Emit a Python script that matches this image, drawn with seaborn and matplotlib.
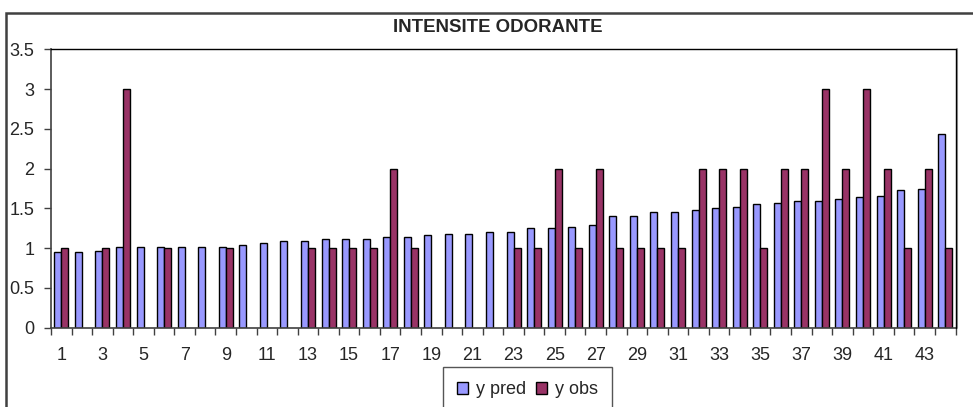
import numpy as np
import pandas as pd
import matplotlib
matplotlib.use("Agg")
import matplotlib.pyplot as plt
from matplotlib.patches import Patch, Rectangle
import seaborn as sns

nan = np.nan

categories = [str(i) for i in range(1, 45)]
y_pred = [0.95, 0.95, 0.97, 1.02, 1.02, 1.02, 1.02, 1.02, 1.02, 1.04,
          1.06, 1.09, 1.09, 1.11, 1.11, 1.11, 1.14, 1.14, 1.16, 1.18,
          1.18, 1.20, 1.20, 1.25, 1.25, 1.27, 1.29, 1.40, 1.40, 1.45,
          1.45, 1.48, 1.50, 1.52, 1.55, 1.57, 1.59, 1.59, 1.62, 1.64,
          1.66, 1.73, 1.75, 2.44]
y_obs = [1, nan, 1, 3, nan, 1, nan, nan, 1, nan,
         nan, nan, 1, 1, 1, 1, 2, 1, nan, nan,
         nan, nan, 1, 1, 2, 1, 2, 1, 1, 1,
         1, 2, 2, 2, 1, 2, 2, 3, 2, 3,
         2, 1, 2, 1]
series = ["y pred", "y obs"]
colors = ["#9999FF", "#993366"]
y_ticks = [0, 0.5, 1, 1.5, 2, 2.5, 3, 3.5]
y_tick_labels = ["0", "0.5", "1", "1.5", "2", "2.5", "3", "3.5"]
title = "INTENSITE ODORANTE"

df = pd.DataFrame({
    "cat": categories * 2,
    "serie": [series[0]] * len(categories) + [series[1]] * len(categories),
    "val": list(y_pred) + list(y_obs),
})

sns.set_style("white")
plt.rcParams["font.family"] = ["Liberation Sans", "DejaVu Sans"]

fig = plt.figure(figsize=(9.73, 4.07), dpi=100)
ax = fig.add_axes([51 / 973, 1 - 327.7 / 407, (955.5 - 51) / 973, (327.7 - 49.3) / 407])

sns.barplot(data=df, x="cat", y="val", hue="serie", order=categories,
            hue_order=series, palette=colors, errorbar=None, width=0.68,
            edgecolor="black", linewidth=1.0, saturation=1, ax=ax, legend=False)

ax.set_xlim(-0.5, len(categories) - 0.5)
ax.set_ylim(0, 3.5)
ax.set_xlabel("")
ax.set_ylabel("")

ax.set_yticks(y_ticks)
ax.set_yticklabels(y_tick_labels)
ax.tick_params(axis="y", which="major", direction="out", length=5, width=1,
               color="#404040", labelsize=13, pad=7, left=True)

ax.set_xticks(range(len(categories)))
ax.set_xticklabels([c if i % 2 == 0 else "" for i, c in enumerate(categories)])
ax.tick_params(axis="x", which="major", length=0, labelsize=13, pad=14)
ax.set_xticks(np.arange(-0.5, len(categories) + 0.5, 1.0), minor=True)
ax.tick_params(axis="x", which="minor", direction="out", length=5, width=1,
               color="#404040", bottom=True)

for side in ["left", "bottom"]:
    ax.spines[side].set_color("#404040")
    ax.spines[side].set_linewidth(1.2)
ax.spines["top"].set_color("black")
ax.spines["top"].set_linewidth(1.0)
ax.spines["right"].set_visible(False)
ax.grid(False)

# right edge of the plot area, black line with a grey shade beside it
ax.plot([1.0, 1.0], [0, 1], transform=ax.transAxes, color="black",
        linewidth=1.0, clip_on=False, zorder=6)
ax.plot([1.0, 1.0], [0, 1], transform=ax.transAxes, color="#a0a0a0",
        linewidth=1.5, clip_on=False, zorder=5,
        dashes=(None, None))
ax.lines[-1].set_transform(ax.transAxes + matplotlib.transforms.ScaledTranslation(1.5 / 100, 0, fig.dpi_scale_trans))

# chart area border
fig.patches.append(Rectangle((6 / 973, -0.2), 1.2, 1.2 - 13 / 407,
                             transform=fig.transFigure, fill=False,
                             edgecolor="#404040", linewidth=1.8))

fig.text(498 / 973, 1 - 27.5 / 407, title, ha="center", va="center",
         fontsize=13.4, fontweight="bold")

handles = [Patch(facecolor=c, edgecolor="black", linewidth=1.0) for c in colors]
fig.legend(handles, series, loc="upper left",
           bbox_to_anchor=(443 / 973, 1 - 367 / 407), bbox_transform=fig.transFigure,
           ncol=2, fontsize=13, frameon=True, fancybox=False, shadow=False,
           edgecolor="#555555", framealpha=1, borderpad=0.8, borderaxespad=0,
           handlelength=0.6, handleheight=0.6, handletextpad=0.4,
           columnspacing=0.6)
leg = fig.legends[0]
leg.get_frame().set_linewidth(1.0)

fig.savefig("out.png", dpi=100)
